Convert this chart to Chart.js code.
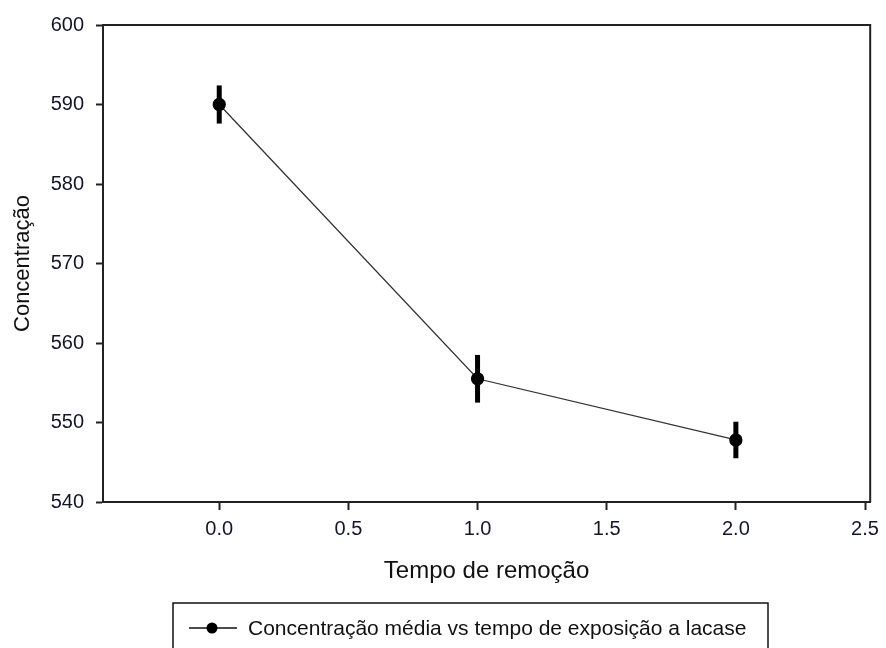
<!DOCTYPE html>
<html>
<head>
<meta charset="utf-8">
<script src="https://cdn.jsdelivr.net/npm/chart.js@4"></script>
<style>
  html, body { margin: 0; padding: 0; background: #fff; }
  #wrap { width: 886px; height: 648px; }
</style>
</head>
<body>
<div id="wrap"><canvas id="chart" width="886" height="648"></canvas></div>
<script>
// data
const tempo = [0, 1, 2];
const concentracao = [590.0, 555.5, 547.8];
const erro = [2.4, 3.0, 2.3];
const xTicks = [0, 0.5, 1.0, 1.5, 2.0, 2.5];
const yTicks = [540, 550, 560, 570, 580, 590, 600];
const serieLabel = 'Concentração média vs tempo de exposição a lacase';

const fam = 'Liberation Sans, Arial, sans-serif';
const tickFont = { family: fam, size: 20 };

// error bars, frame top/right and the boxed legend
const extras = {
  id: 'extras',
  afterDatasetsDraw(chart) {
    const ctx = chart.ctx;
    const x = chart.scales.x, y = chart.scales.y;
    ctx.save();
    ctx.strokeStyle = '#000';
    ctx.lineWidth = 5;
    tempo.forEach((t, i) => {
      const px = x.getPixelForValue(t);
      ctx.beginPath();
      ctx.moveTo(px, y.getPixelForValue(concentracao[i] + erro[i]));
      ctx.lineTo(px, y.getPixelForValue(concentracao[i] - erro[i]));
      ctx.stroke();
    });
    ctx.restore();
  },
  afterDraw(chart) {
    const ctx = chart.ctx;
    const a = chart.chartArea;
    ctx.save();
    ctx.strokeStyle = '#222';
    ctx.lineWidth = 2;
    ctx.beginPath();
    ctx.moveTo(a.left, a.top);
    ctx.lineTo(a.right, a.top);
    ctx.lineTo(a.right, a.bottom);
    ctx.stroke();

    // legend box
    ctx.lineWidth = 1.5;
    ctx.strokeStyle = '#111';
    ctx.strokeRect(173, 603, 595, 60);
    ctx.beginPath();
    ctx.moveTo(189, 628);
    ctx.lineTo(237, 628);
    ctx.stroke();
    ctx.fillStyle = '#000';
    ctx.beginPath();
    ctx.arc(212, 628, 5.5, 0, Math.PI * 2);
    ctx.fill();
    ctx.font = '21px ' + fam;
    ctx.textBaseline = 'middle';
    ctx.fillStyle = '#111';
    ctx.fillText(serieLabel, 248, 629);
    ctx.restore();
  }
};

new Chart(document.getElementById('chart'), {
  type: 'scatter',
  data: {
    datasets: [{
      label: serieLabel,
      data: tempo.map((t, i) => ({ x: t, y: concentracao[i] })),
      showLine: true,
      borderColor: '#333',
      borderWidth: 1.3,
      pointRadius: 6,
      pointBackgroundColor: '#000',
      pointBorderColor: '#000'
    }]
  },
  options: {
    responsive: false,
    animation: false,
    devicePixelRatio: 1,
    layout: { padding: { top: 25, right: 11, left: 6, bottom: 58 } },
    plugins: { legend: { display: false }, tooltip: { enabled: false } },
    scales: {
      x: {
        type: 'linear',
        min: -0.45,
        max: 2.52,
        afterBuildTicks: axis => { axis.ticks = xTicks.map(v => ({ value: v })); },
        afterFit: axis => { axis.height = 88; },
        grid: { drawOnChartArea: false, tickLength: 8, tickWidth: 2, tickColor: '#222' },
        border: { color: '#222', width: 2 },
        ticks: { font: tickFont, color: '#15152a', padding: 7, maxRotation: 0,
                 callback: v => Number(v).toFixed(1) },
        title: { display: true, text: 'Tempo de remoção', color: '#111',
                 font: { family: fam, size: 24 } }
      },
      y: {
        min: 540,
        max: 600,
        afterBuildTicks: axis => { axis.ticks = yTicks.map(v => ({ value: v })); },
        afterFit: axis => { axis.width = 97; },
        grid: { drawOnChartArea: false, tickLength: 7, tickWidth: 2, tickColor: '#222' },
        border: { color: '#222', width: 2 },
        ticks: { font: tickFont, color: '#15152a', padding: 12 },
        title: { display: true, text: 'Concentração', color: '#111',
                 font: { family: fam, size: 22 } }
      }
    }
  },
  plugins: [extras]
});
</script>
</body>
</html>
